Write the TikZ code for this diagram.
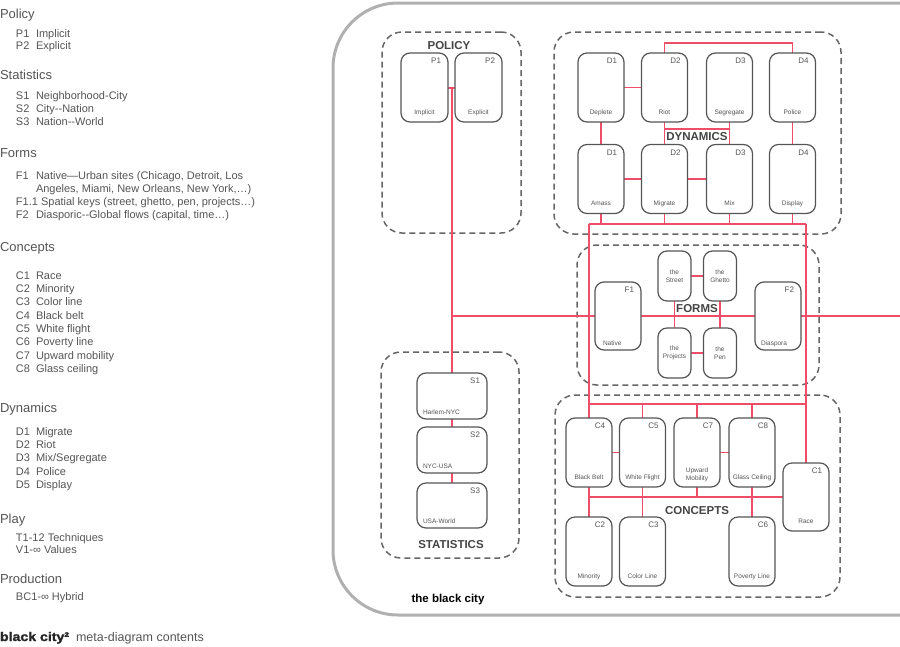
\documentclass[tikz,border=0pt]{standalone}
\usepackage{fontspec}
\setmainfont{Liberation Sans}
\definecolor{txt}{HTML}{555555}
\definecolor{bxc}{HTML}{555555}
\definecolor{grp}{HTML}{666666}
\definecolor{redl}{RGB}{240,78,104}
\definecolor{frm}{HTML}{B0B0B0}
\definecolor{ttl}{HTML}{444444}
\pgfdeclarelayer{bg}
\pgfsetlayers{bg,main}
\newcommand{\bcbox}[6]{\node[bx, minimum width=#4pt, minimum height=#5pt] (#1) at (#2,#3) {};\node[codel] (#1c) at (#1.north east) {#6};}
\newcommand{\lit}[4]{\node[item] (#1) at (16,#2) {#3};\node[item] (#1t) at (36,#2) {#4};}
\begin{document}
\begin{tikzpicture}[x=1pt,y=-1pt,
 every node/.style={inner sep=0pt, outer sep=0pt},
 head/.style={anchor=base west, text=txt, font=\fontsize{13}{15}\selectfont},
 item/.style={anchor=base west, text=txt, font=\fontsize{11}{13}\selectfont},
 grpbox/.style={draw=grp, line width=1.5pt, dash pattern=on 6pt off 4pt, rounded corners=20pt},
 bx/.style={draw=bxc, line width=1.2pt, rounded corners=9pt, fill=white},
 codel/.style={anchor=north east, xshift=-7pt, yshift=-5pt, text=txt, font=\fontsize{8}{9}\selectfont},
 namel/.style={anchor=base, yshift=8pt, text=txt, font=\fontsize{6.5}{8}\selectfont},
 namelw/.style={anchor=base west, xshift=6pt, yshift=5pt, text=txt, font=\fontsize{6.5}{8}\selectfont},
 inlab/.style={align=center, text=txt, font=\fontsize{6.5}{8}\selectfont},
 ttlst/.style={text=ttl, font=\bfseries\fontsize{11.5}{14}\selectfont},
 link/.style={draw=redl, line width=1.5pt},
 frame/.style={draw=frm, line width=3pt, rounded corners=65pt},
]
\useasboundingbox (0,0) rectangle (900,646);

% ---------- left list ----------
\node[head] (hPol) at (0,18.5) {Policy};
\lit{lp1}{37}{P1}{Implicit}
\lit{lp2}{49}{P2}{Explicit}
\node[head] (hSta) at (0,79.5) {Statistics};
\lit{ls1}{99}{S1}{Neighborhood-City}
\lit{ls2}{112}{S2}{City-{}-Nation}
\lit{ls3}{125}{S3}{Nation-{}-World}
\node[head] (hFor) at (0,157.5) {Forms};
\lit{lf1}{179}{F1}{Native—Urban sites (Chicago, Detroit, Los}
\node[item] (lf1b) at (36,192) {Angeles, Miami, New Orleans, New York,…)};
\node[item] (lf11) at (16,205) {F1.1 Spatial keys (street, ghetto, pen, projects…)};
\lit{lf2}{218}{F2}{Diasporic-{}-Global flows (capital, time…)}
\node[head] (hCon) at (0,251.5) {Concepts};
\lit{lc1}{279}{C1}{Race}
\lit{lc2}{292}{C2}{Minority}
\lit{lc3}{305}{C3}{Color line}
\lit{lc4}{319}{C4}{Black belt}
\lit{lc5}{332}{C5}{White flight}
\lit{lc6}{345}{C6}{Poverty line}
\lit{lc7}{359}{C7}{Upward mobility}
\lit{lc8}{372}{C8}{Glass ceiling}
\node[head] (hDyn) at (0,412.5) {Dynamics};
\lit{ld1}{435}{D1}{Migrate}
\lit{ld2}{448}{D2}{Riot}
\lit{ld3}{461}{D3}{Mix/Segregate}
\lit{ld4}{475}{D4}{Police}
\lit{ld5}{488}{D5}{Display}
\node[head] (hPla) at (0,523.5) {Play};
\node[item] (lt) at (16,541) {T1-12 Techniques};
\node[item] (lv) at (16,553) {V1-∞ Values};
\node[head] (hPro) at (0,583.5) {Production};
\node[item] (lbc) at (16,600) {BC1-∞ Hybrid};
\node[anchor=base west, text=black!85, font=\bfseries\fontsize{12.5}{14}\selectfont] (cap1) at (0,641) {\addfontfeature{FakeBold=1.5}\scalebox{1.13}[1]{black city²}};
\node[anchor=base west, text=txt, font=\fontsize{12.5}{14}\selectfont] (cap2) at (76,641) {meta-diagram contents};

% ---------- boxes ----------
\bcbox{P1}{424.5}{87.5}{47}{69}{P1}
\bcbox{P2}{478.5}{87.5}{47}{69}{P2}
\node[namel] (P1n) at (P1.south) {Implicit};
\node[namel] (P2n) at (P2.south) {Explicit};

\bcbox{D1t}{601}{87.5}{46}{69}{D1}
\bcbox{D2t}{664.5}{87.5}{46}{69}{D2}
\bcbox{D3t}{729.5}{87.5}{46}{69}{D3}
\bcbox{D4t}{792.5}{87.5}{46}{69}{D4}
\bcbox{D1b}{601}{179}{46}{69}{D1}
\bcbox{D2b}{664.5}{179}{46}{69}{D2}
\bcbox{D3b}{729.5}{179}{46}{69}{D3}
\bcbox{D4b}{792.5}{179}{46}{69}{D4}
\node[namel] (D1tn) at (D1t.south) {Deplete};
\node[namel] (D2tn) at (D2t.south) {Riot};
\node[namel] (D3tn) at (D3t.south) {Segregate};
\node[namel] (D4tn) at (D4t.south) {Police};
\node[namel] (D1bn) at (D1b.south) {Amass};
\node[namel] (D2bn) at (D2b.south) {Migrate};
\node[namel] (D3bn) at (D3b.south) {Mix};
\node[namel] (D4bn) at (D4b.south) {Display};

\bcbox{F1}{618}{316}{46}{68}{F1}
\bcbox{F2}{778}{316}{46}{68}{F2}
\node[namelw, xshift=2pt] (F1n) at (F1.south west) {Native};
\node[namelw] (F2n) at (F2.south west) {Diaspora};
\node[bx, minimum width=33pt, minimum height=50pt] (Fs) at (674.5,276) {};
\node[bx, minimum width=33pt, minimum height=50pt] (Fg) at (720,276) {};
\node[bx, minimum width=33pt, minimum height=50pt] (Fp) at (674.5,353) {};
\node[bx, minimum width=33pt, minimum height=50pt] (Fn) at (720,353) {};
\node[inlab] (Fsl) at (Fs.center) {the\\Street};
\node[inlab] (Fgl) at (Fg.center) {the\\Ghetto};
\node[inlab] (Fpl) at (Fp.center) {the\\Projects};
\node[inlab] (Fnl) at (Fn.center) {the\\Pen};

\bcbox{S1}{452}{396}{70}{46}{S1}
\bcbox{S2}{452}{450}{70}{46}{S2}
\bcbox{S3}{452}{505.5}{70}{45}{S3}
\node[namelw] (S1n) at (S1.south west) {Harlem-NYC};
\node[namelw] (S2n) at (S2.south west) {NYC-USA};
\node[namelw] (S3n) at (S3.south west) {USA-World};

\bcbox{C4}{589}{452.5}{46}{69}{C4}
\bcbox{C5}{642.5}{452.5}{46}{69}{C5}
\bcbox{C7}{697}{452.5}{46}{69}{C7}
\bcbox{C8}{752}{452.5}{46}{69}{C8}
\bcbox{C2}{589}{551.5}{46}{69}{C2}
\bcbox{C3}{642.5}{551.5}{46}{69}{C3}
\bcbox{C6}{752}{551.5}{46}{69}{C6}
\bcbox{C1}{806}{497}{46}{68}{C1}
\node[namel] (C4n) at (C4.south) {Black Belt};
\node[namel] (C5n) at (C5.south) {White Flight};
\node[inlab, anchor=south, yshift=5.5pt] (C7n) at (C7.south) {Upward\\Mobility};
\node[namel] (C8n) at (C8.south) {Glass Ceiling};
\node[namel] (C2n) at (C2.south) {Minority};
\node[namel] (C3n) at (C3.south) {Color Line};
\node[namel] (C6n) at (C6.south) {Poverty Line};
\node[namel] (C1n) at (C1.south) {Race};

% ---------- titles ----------
\node[ttlst] (tPol) at (449,46) {POLICY};
\node[ttlst] (tDyn) at (697,137) {DYNAMICS};
\node[ttlst] (tFor) at (697,309) {FORMS};
\node[ttlst] (tCon) at (697,511) {CONCEPTS};
\node[ttlst] (tSta) at (451,545) {STATISTICS};
\node[anchor=base, text=black, font=\bfseries\fontsize{11.5}{14}\selectfont] (tCity) at (448,602) {the black city};

% ---------- background: frame, groups, links ----------
\begin{pgfonlayer}{bg}
\begin{scope}
\clip (0,0) rectangle (900,646);
\draw[frame] (333,3) rectangle (1000,615);
\node[grpbox, minimum width=139pt, minimum height=201pt] (gPol) at (451.5,132.5) {};
\node[grpbox, minimum width=287pt, minimum height=202pt] (gDyn) at (697.5,133) {};
\node[grpbox, minimum width=242pt, minimum height=140pt] (gFor) at (698,315) {};
\node[grpbox, minimum width=138pt, minimum height=206pt] (gSta) at (450,455) {};
\node[grpbox, minimum width=285pt, minimum height=202pt] (gCon) at (697.5,496) {};

% policy / statistics / forms spine
\coordinate (jp) at (452,88);
\coordinate (jf) at (452,316);
\coordinate (exitr) at (905,316);
\draw[link] (P1.east |- jp) -- (P2.west |- jp);
\draw[link] (jp) -- (S1.north);
\draw[link] (S1.south) -- (S2.north);
\draw[link] (S2.south) -- (S3.north);
\draw[link] (jf) -- (F1.west);
\draw[link] (F1.east) -- (F2.west);
\draw[link] (F2.east) -- (exitr);

% forms
\draw[link] (Fs.east) -- (Fg.west);
\draw[link] (Fp.east) -- (Fn.west);
\draw[link] (Fs.south) -- (Fp.north);
\draw[link] (Fg.south) -- (Fn.north);

% dynamics
\coordinate (dtop) at (0,43);
\coordinate (dbr) at (0,129);
\draw[link] (D1t.east) -- (D2t.west);
\draw[link] (D1b.east) -- (D2b.west);
\draw[link] (D2b.east) -- (D3b.west);
\draw[link] (D1t.south) -- (D1b.north);
\draw[link] (D2t.south) -- (D2b.north);
\draw[link] (D3t.south) -- (D3b.north);
\draw[link] (D4t.south) -- (D4b.north);
\draw[link] (D2t.north) -- (D2t.north |- dtop) -- (D4t.north |- dtop) -- (D4t.north);
\draw[link] (D2t.south |- dbr) -- (D3t.south |- dbr);

% bus between dynamics and concepts
\coordinate (busL) at (589,224);
\coordinate (busR) at (806,224);
\draw[link] (D1b.south) -- (D1b.south |- busL);
\draw[link] (D2b.south) -- (D2b.south |- busL);
\draw[link] (D3b.south) -- (D3b.south |- busL);
\draw[link] (D4b.south) -- (D4b.south |- busL);
\draw[link] (busL) -- (busR);
\draw[link] (busL) -- (C4.north);
\draw[link] (busR) -- (C1.north);

% concepts
\coordinate (cbL) at (589,404);
\coordinate (cbR) at (806,404);
\draw[link] (cbL) -- (cbR);
\draw[link] (C5.north |- cbL) -- (C5.north);
\draw[link] (C7.north |- cbL) -- (C7.north);
\draw[link] (C8.north |- cbL) -- (C8.north);
\draw[link] (C4.east) -- (C5.west);
\draw[link] (C7.east) -- (C8.west);
\draw[link] (C4.south) -- (C2.north);
\draw[link] (C5.south) -- (C3.north);
\draw[link] (C8.south) -- (C6.north);
\draw[link] (C4.south |- C1.west) -- (C1.west);
\draw[link] (C7.south) -- (C7.south |- C1.west);
\end{scope}
\end{pgfonlayer}
\end{tikzpicture}
\end{document}
